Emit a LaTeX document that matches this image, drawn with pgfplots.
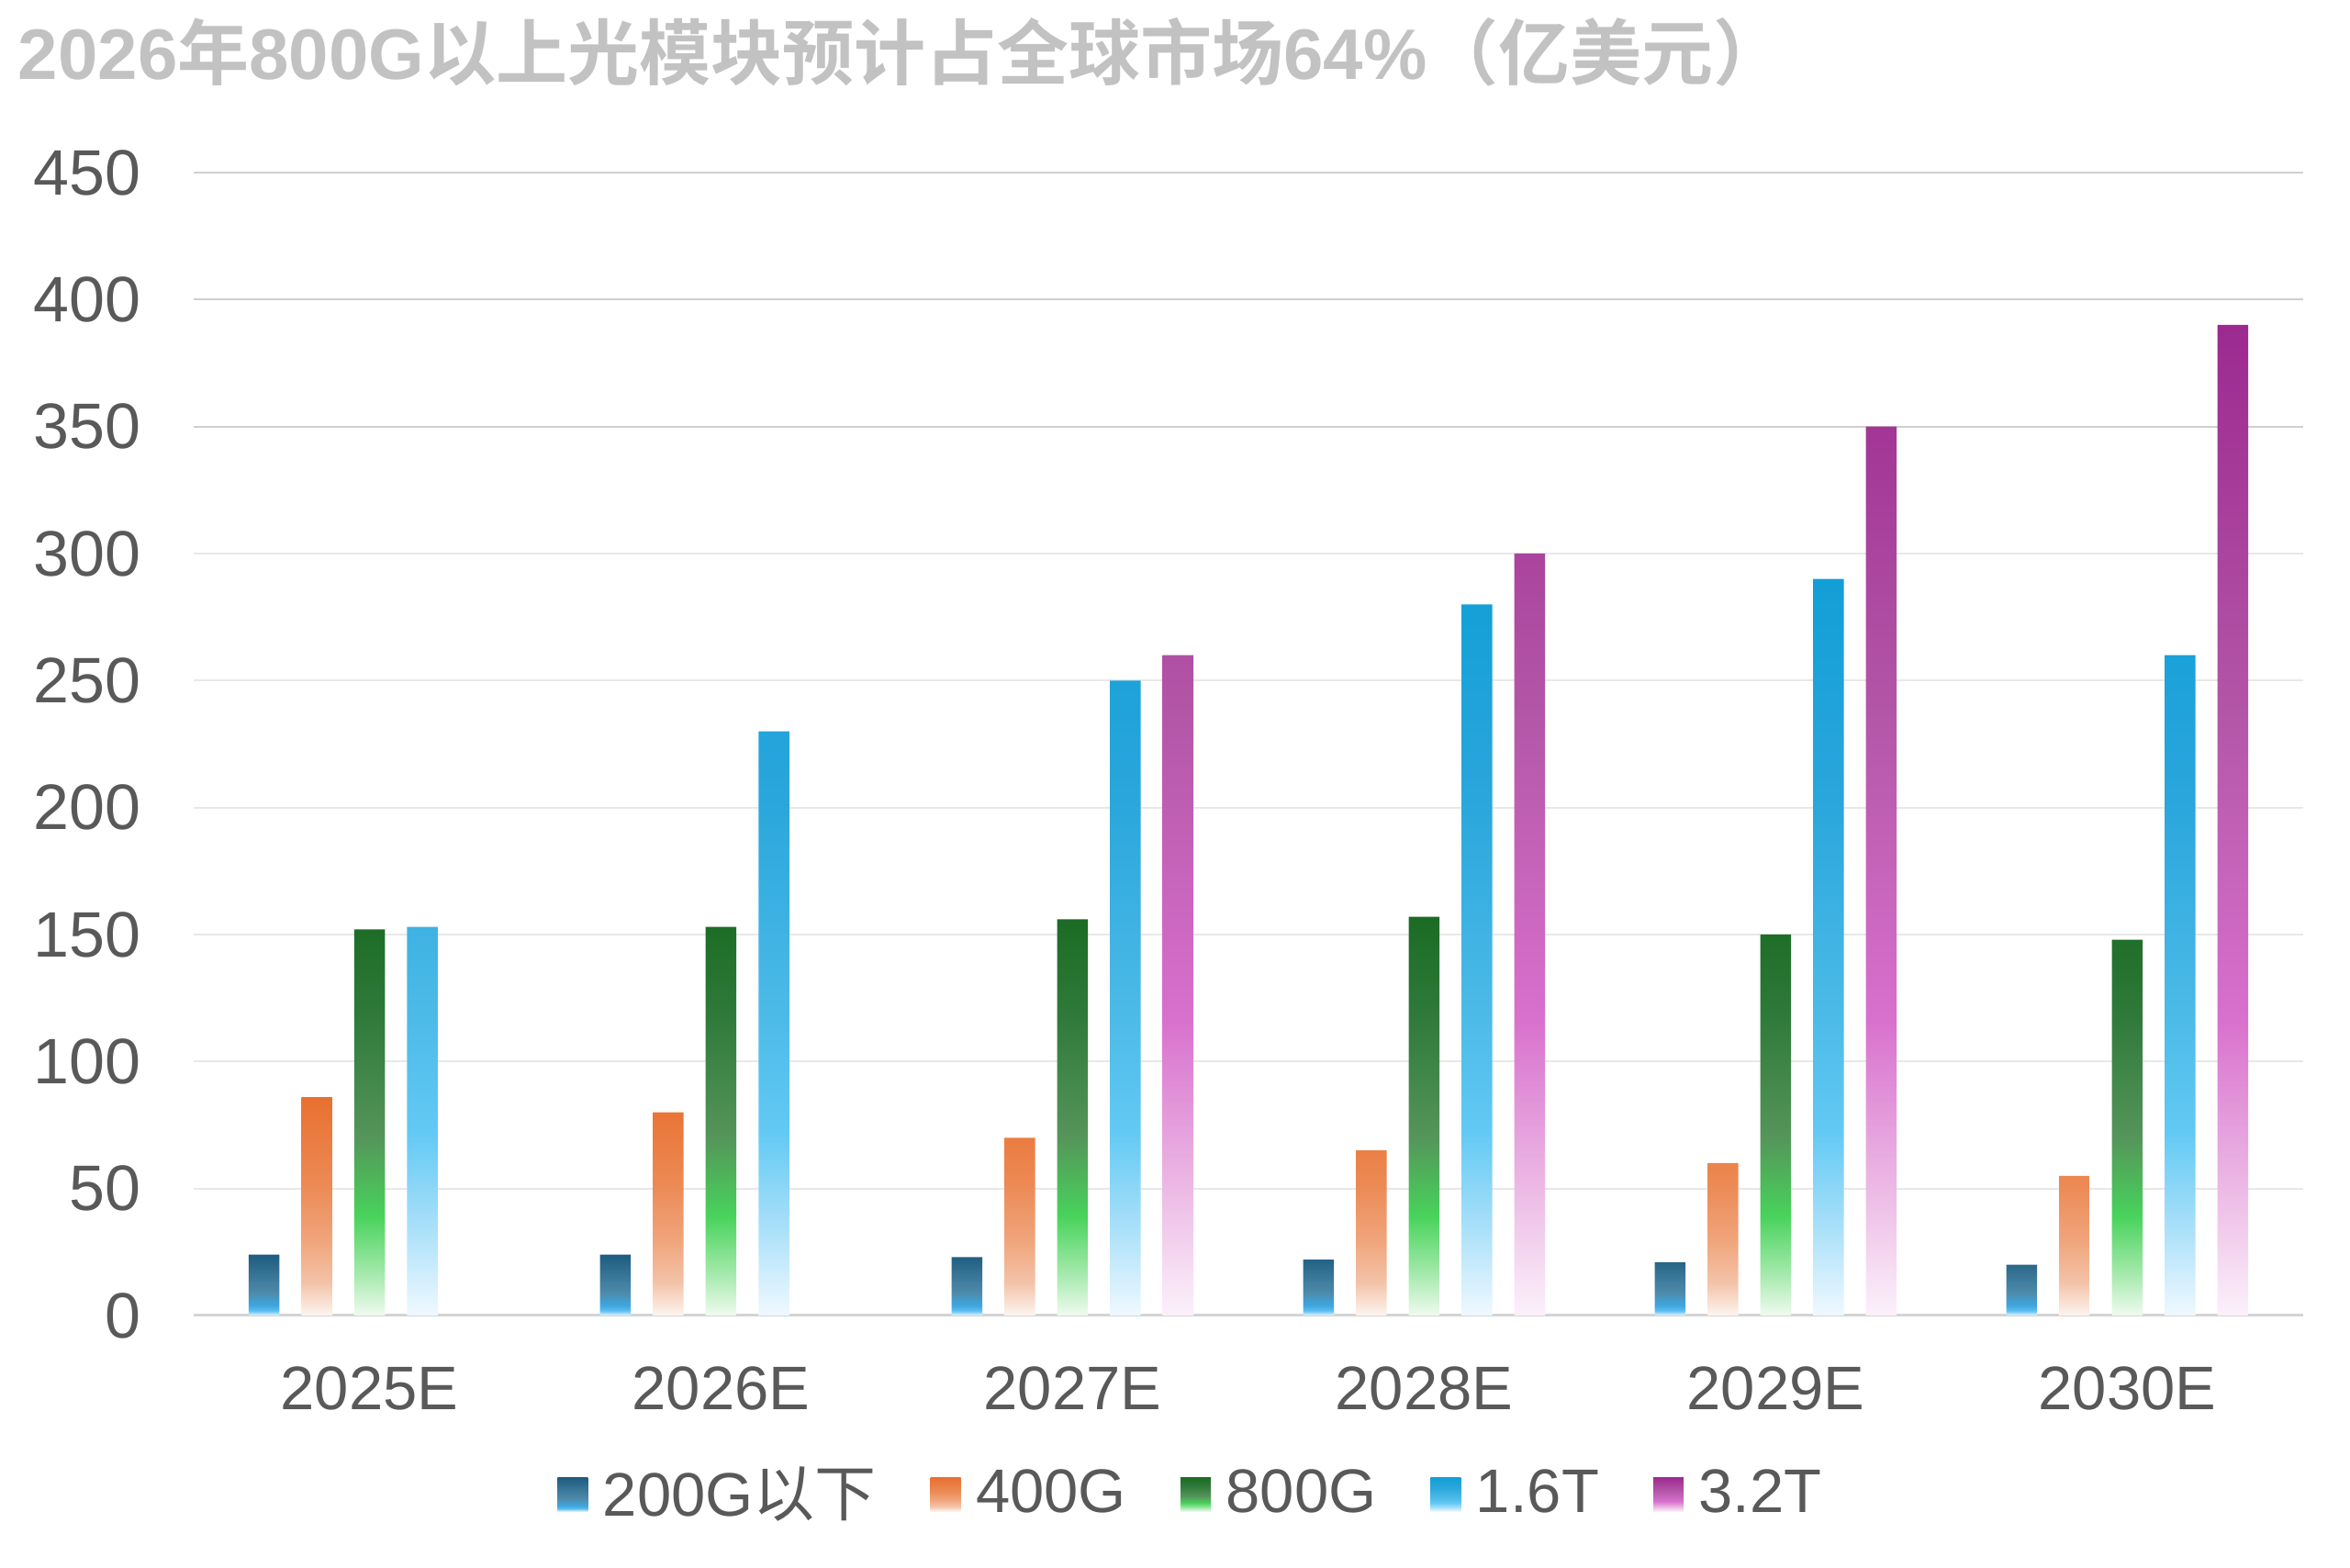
\documentclass[border=0pt]{standalone}
\usepackage{pgfplots}
\pgfplotsset{compat=1.18}
\usepackage{fontspec}
\setmainfont{Liberation Sans}
\newfontfamily\cjk{Noto Sans CJK SC}[BoldFont={Noto Sans CJK SC Bold}]

\definecolor{titlegrey}{HTML}{C2C2C2}
\definecolor{tickgrey}{HTML}{595959}
\definecolor{gridlight}{HTML}{E8E8E8}
\definecolor{griddark}{HTML}{CFCFCF}
\definecolor{axisgrey}{HTML}{D4D4D4}

% 200G
\definecolor{aA}{HTML}{EAF6FD}\definecolor{aB}{HTML}{5EBFF0}\definecolor{aC}{HTML}{3FA8E0}
\definecolor{aD}{HTML}{4D88A8}\definecolor{aE}{HTML}{1D5C80}
\pgfdeclareverticalshading{sA}{100bp}{color(0bp)=(aA); color(25bp)=(aA); color(29bp)=(aB); color(33bp)=(aC); color(45bp)=(aD); color(75bp)=(aE); color(100bp)=(aE)}
% 400G
\definecolor{bA}{HTML}{FDF5F0}\definecolor{bB}{HTML}{F3C3A8}\definecolor{bC}{HTML}{F0A47A}
\definecolor{bD}{HTML}{EC8A55}\definecolor{bE}{HTML}{E8702F}
\pgfdeclareverticalshading{sB}{100bp}{color(0bp)=(bA); color(25bp)=(bA); color(32.5bp)=(bB); color(42.5bp)=(bC); color(55bp)=(bD); color(75bp)=(bE); color(100bp)=(bE)}
% 800G
\definecolor{cA}{HTML}{F0FBF0}\definecolor{cB}{HTML}{A8EAAF}\definecolor{cC}{HTML}{48D35B}
\definecolor{cD}{HTML}{55945A}\definecolor{cE}{HTML}{2F7A3A}\definecolor{cF}{HTML}{1B6B24}
\pgfdeclareverticalshading{sC}{100bp}{color(0bp)=(cA); color(25bp)=(cA); color(30bp)=(cB); color(37.5bp)=(cC); color(47.5bp)=(cD); color(62.5bp)=(cE); color(75bp)=(cF); color(100bp)=(cF)}
% 1.6T
\definecolor{dA}{HTML}{F0F9FE}\definecolor{dB}{HTML}{A9E0F9}\definecolor{dC}{HTML}{62C9F4}
\definecolor{dD}{HTML}{4DBBE8}\definecolor{dE}{HTML}{2AA6DC}\definecolor{dF}{HTML}{129FD6}
\pgfdeclareverticalshading{sD}{100bp}{color(0bp)=(dA); color(25bp)=(dA); color(31bp)=(dB); color(37.5bp)=(dC); color(45bp)=(dD); color(60bp)=(dE); color(75bp)=(dF); color(100bp)=(dF)}
% 3.2T
\definecolor{eA}{HTML}{FBF1FA}\definecolor{eB}{HTML}{EDBDE6}\definecolor{eC}{HTML}{D870CD}
\definecolor{eD}{HTML}{B457A8}\definecolor{eE}{HTML}{9C2A90}
\pgfdeclareverticalshading{sE}{100bp}{color(0bp)=(eA); color(25bp)=(eA); color(31bp)=(eB); color(40bp)=(eC); color(55bp)=(eD); color(75bp)=(eE); color(100bp)=(eE)}

\begin{document}
\begin{tikzpicture}
\useasboundingbox (0,0) rectangle (512pt,341.6pt);
\begin{axis}[
  at={(42.2pt,55pt)}, anchor=south west,
  scale only axis, width=459.6pt, height=249pt,
  ybar=4.8pt, bar width=6.7pt,
  xmin=-0.5, xmax=5.5, ymin=0, ymax=450,
  xtick={0,1,2,3,4,5},
  xticklabels={2025E,2026E,2027E,2028E,2029E,2030E},
  ytick={0,50,...,450},
  major tick length=0pt,
  axis x line*=bottom, axis y line*=left,
  x axis line style={draw=axisgrey, line width=0.6pt},
  y axis line style={draw=none},
  ymajorgrids,
  grid style={draw=gridlight, line width=0.4pt},
  extra y ticks={350,400,450},
  extra y tick labels={},
  extra y tick style={grid=major, major grid style={draw=griddark, line width=0.4pt}},
  /pgf/number format/assume math mode=true,
  ticklabel style={font=\fontsize{13.4}{16}\selectfont, text=tickgrey},
  yticklabel style={xshift=-8pt, font=\fontsize{14}{16}\selectfont},
  xticklabel style={yshift=-7.6pt},
  legend style={at={(0.4743,-0.1566)}, anchor=center, draw=none, fill=none,
    font=\fontsize{13.4}{16}\selectfont, text=tickgrey, inner sep=0pt,
    /tikz/every even column/.append style={column sep=9.8pt}},
  legend columns=5,
  legend image code/.code={\path[#1,draw=none] (0pt,-3.7pt) rectangle (6.6pt,3.7pt);\path (0pt,0pt) -- (7.9pt,0pt);},
]
\addplot[draw=none, shade, shading=sA] coordinates {(0,24) (1,24) (2,23) (3,22) (4,21) (5,20)};
\addplot[draw=none, shade, shading=sB] coordinates {(0,86) (1,80) (2,70) (3,65) (4,60) (5,55)};
\addplot[draw=none, shade, shading=sC] coordinates {(0,152) (1,153) (2,156) (3,157) (4,150) (5,148)};
\addplot[draw=none, shade, shading=sD] coordinates {(0,153) (1,230) (2,250) (3,280) (4,290) (5,260)};
\addplot[draw=none, shade, shading=sE] coordinates {(2,260) (3,300) (4,350) (5,390)};
\legend{200G{\cjk 以下},400G,800G,1.6T,3.2T}
\end{axis}
\node[anchor=west, inner sep=0pt, text=titlegrey, font=\fontsize{15.6}{18}\selectfont\bfseries] at (3.8pt,330.2pt)
  {2026{\cjk 年}800G{\cjk 以上光模块预计占全球市场}64\%{\cjk （亿美元）}};
\end{tikzpicture}
\end{document}
